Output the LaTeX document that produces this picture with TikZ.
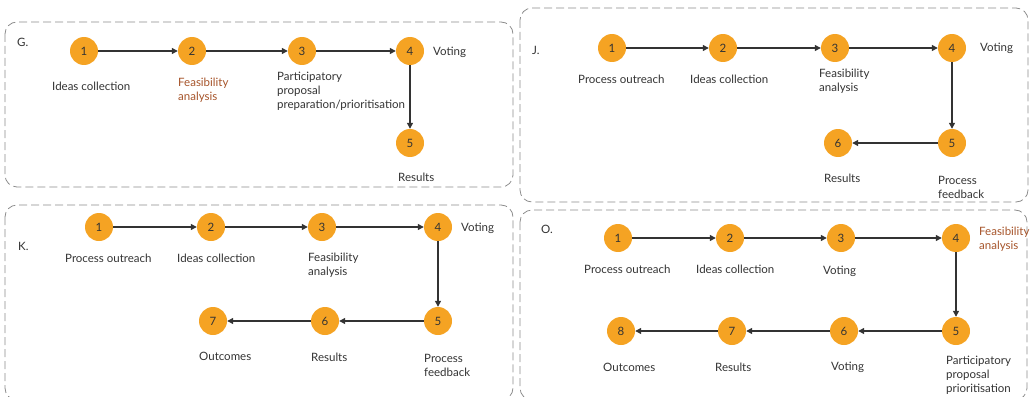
\documentclass[tikz,border=0pt]{standalone}
\usepackage{fontspec}
\setmainfont{Lato}
\definecolor{stageorange}{RGB}{245,163,35}
\definecolor{stagebrown}{RGB}{166,84,42}
\definecolor{textgrey}{RGB}{51,51,51}
\definecolor{framegrey}{RGB}{140,140,140}
\usetikzlibrary{arrows.meta}
\tikzset{
  stage/.style={circle, fill=stageorange, minimum size=28pt, inner sep=0pt, font=\fontsize{11.5}{13}\selectfont, text=textgrey},
  lbl/.style={anchor=west, inner sep=0pt, align=left, font=\fontsize{11.5}{14}\selectfont, text=textgrey},
  flow/.style={draw=textgrey, line width=1.2pt, -{Triangle[length=6pt,width=6pt]}},
  panel/.style={draw=framegrey, dash pattern=on 8pt off 4pt, line width=0.8pt, rounded corners=12pt}
}

\begin{document}
\begin{tikzpicture}[x=1pt, y=-1pt]
    \useasboundingbox (0,0) rectangle (1030,396);
    \draw[panel] (5,22) rectangle (513,187);
    \draw[panel] (520,8) rectangle (1028,202);
    \draw[panel] (5,205) rectangle (513,400);
    \draw[panel] (520,210) rectangle (1027,400);

    \node[lbl] (gtitle) at (17,42) {G.};
    \node[stage] (g1) at (84,51) {1};
    \node[stage] (g2) at (192,51) {2};
    \node[stage] (g3) at (302,51) {3};
    \node[stage] (g4) at (410,51) {4};
    \node[stage] (g5) at (410,143) {5};
    \node[lbl] (gl1) at (52,86) {Ideas collection};
    \node[lbl, text=stagebrown] (gl2) at (178,90) {Feasibility\\analysis};
    \node[lbl] (gl3) at (277,91) {Participatory\\proposal\\preparation/prioritisation};
    \node[lbl] (gl4) at (433,52) {Voting};
    \node[lbl] (gl5) at (398,177) {Results};
    \draw[flow] (g1) -- (g2);
    \draw[flow] (g2) -- (g3);
    \draw[flow] (g3) -- (g4);
    \draw[flow] (g4) -- (g5);

    \node[lbl] (jtitle) at (532,50) {J.};
    \node[stage] (j1) at (612,48) {1};
    \node[stage] (j2) at (723,48) {2};
    \node[stage] (j3) at (835,48) {3};
    \node[stage] (j4) at (952,48) {4};
    \node[stage] (j5) at (952,143) {5};
    \node[stage] (j6) at (838,143) {6};
    \node[lbl] (jl1) at (578,79) {Process outreach};
    \node[lbl] (jl2) at (690,79) {Ideas collection};
    \node[lbl] (jl3) at (819,81) {Feasibility\\analysis};
    \node[lbl] (jl4) at (980,48) {Voting};
    \node[lbl] (jl5) at (938,187) {Process\\feedback};
    \node[lbl] (jl6) at (824,178) {Results};
    \draw[flow] (j1) -- (j2);
    \draw[flow] (j2) -- (j3);
    \draw[flow] (j3) -- (j4);
    \draw[flow] (j4) -- (j5);
    \draw[flow] (j5) -- (j6);

    \node[lbl] (ktitle) at (18,246) {K.};
    \node[stage] (k1) at (99,227) {1};
    \node[stage] (k2) at (211,227) {2};
    \node[stage] (k3) at (322,227) {3};
    \node[stage] (k4) at (438,227) {4};
    \node[stage] (k5) at (438,321) {5};
    \node[stage] (k6) at (325,321) {6};
    \node[stage] (k7) at (213,321) {7};
    \node[lbl] (kl1) at (65,258) {Process outreach};
    \node[lbl] (kl2) at (177,258) {Ideas collection};
    \node[lbl] (kl3) at (308,265) {Feasibility\\analysis};
    \node[lbl] (kl4) at (461,228) {Voting};
    \node[lbl] (kl5) at (424,365) {Process\\feedback};
    \node[lbl] (kl6) at (311,357) {Results};
    \node[lbl] (kl7) at (199,356) {Outcomes};
    \draw[flow] (k1) -- (k2);
    \draw[flow] (k2) -- (k3);
    \draw[flow] (k3) -- (k4);
    \draw[flow] (k4) -- (k5);
    \draw[flow] (k5) -- (k6);
    \draw[flow] (k6) -- (k7);

    \node[lbl] (otitle) at (541,229) {O.};
    \node[stage] (o1) at (618,238) {1};
    \node[stage] (o2) at (730,238) {2};
    \node[stage] (o3) at (841,238) {3};
    \node[stage] (o4) at (956,238) {4};
    \node[stage] (o5) at (956,331) {5};
    \node[stage] (o6) at (844,331) {6};
    \node[stage] (o7) at (732,331) {7};
    \node[stage] (o8) at (621,331) {8};
    \node[lbl] (ol1) at (584,269) {Process outreach};
    \node[lbl] (ol2) at (696,269) {Ideas collection};
    \node[lbl] (ol3) at (823,271) {Voting};
    \node[lbl, text=stagebrown] (ol4) at (979,239) {Feasibility\\analysis};
    \node[lbl] (ol5) at (946,375) {Participatory\\proposal\\prioritisation};
    \node[lbl] (ol6) at (831,367) {Voting};
    \node[lbl] (ol7) at (715,367) {Results};
    \node[lbl] (ol8) at (603,367) {Outcomes};
    \draw[flow] (o1) -- (o2);
    \draw[flow] (o2) -- (o3);
    \draw[flow] (o3) -- (o4);
    \draw[flow] (o4) -- (o5);
    \draw[flow] (o5) -- (o6);
    \draw[flow] (o6) -- (o7);
    \draw[flow] (o7) -- (o8);
\end{tikzpicture}
\end{document}
